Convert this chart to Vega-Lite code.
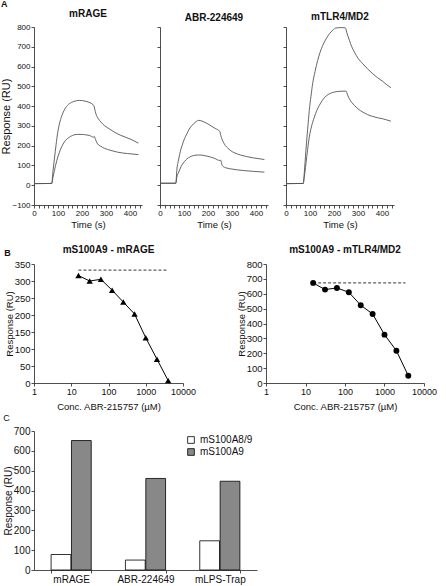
{
"$schema":"https://vega.github.io/schema/vega-lite/v6.json",
"padding":{"left":0,"top":0,"right":1,"bottom":1},
"config":{"font":"Liberation Sans","view":{"stroke":null},
"axis":{"grid":false,"domainColor":"#222","tickColor":"#222","labelColor":"#111","titleColor":"#111","tickSize":3,"labelPadding":1,"titlePadding":2,"titleFontWeight":"normal","labelFont":"Liberation Sans","titleFont":"Liberation Sans","domainWidth":0.8,"tickWidth":0.8},
"axisY":{"titlePadding":0},
"title":{"font":"Liberation Sans","fontWeight":"bold","color":"#111"}},
"datasets":{
"sens":[
{"p":"mRAGE","s":"hi","t":0,"r":8},{"p":"mRAGE","s":"hi","t":74,"r":9},{"p":"mRAGE","s":"hi","t":79,"r":70},{"p":"mRAGE","s":"hi","t":85,"r":133},{"p":"mRAGE","s":"hi","t":92,"r":205},{"p":"mRAGE","s":"hi","t":99,"r":268},{"p":"mRAGE","s":"hi","t":108,"r":320},{"p":"mRAGE","s":"hi","t":119,"r":361},{"p":"mRAGE","s":"hi","t":132,"r":392},{"p":"mRAGE","s":"hi","t":147,"r":412},{"p":"mRAGE","s":"hi","t":165,"r":423},{"p":"mRAGE","s":"hi","t":189,"r":429},{"p":"mRAGE","s":"hi","t":217,"r":424},{"p":"mRAGE","s":"hi","t":249,"r":404},{"p":"mRAGE","s":"hi","t":253,"r":385},{"p":"mRAGE","s":"hi","t":258,"r":361},{"p":"mRAGE","s":"hi","t":268,"r":336},{"p":"mRAGE","s":"hi","t":279,"r":319},{"p":"mRAGE","s":"hi","t":295,"r":300},{"p":"mRAGE","s":"hi","t":314,"r":285},{"p":"mRAGE","s":"hi","t":337,"r":267},{"p":"mRAGE","s":"hi","t":362,"r":252},{"p":"mRAGE","s":"hi","t":383,"r":242},{"p":"mRAGE","s":"hi","t":404,"r":232},{"p":"mRAGE","s":"hi","t":420,"r":222},{"p":"mRAGE","s":"hi","t":435,"r":213},
{"p":"mRAGE","s":"lo","t":0,"r":8},{"p":"mRAGE","s":"lo","t":74,"r":9},{"p":"mRAGE","s":"lo","t":79,"r":40},{"p":"mRAGE","s":"lo","t":85,"r":74},{"p":"mRAGE","s":"lo","t":95,"r":125},{"p":"mRAGE","s":"lo","t":106,"r":167},{"p":"mRAGE","s":"lo","t":116,"r":196},{"p":"mRAGE","s":"lo","t":126,"r":218},{"p":"mRAGE","s":"lo","t":142,"r":238},{"p":"mRAGE","s":"lo","t":161,"r":252},{"p":"mRAGE","s":"lo","t":180,"r":257},{"p":"mRAGE","s":"lo","t":196,"r":257},{"p":"mRAGE","s":"lo","t":215,"r":255},{"p":"mRAGE","s":"lo","t":230,"r":252},{"p":"mRAGE","s":"lo","t":249,"r":243},{"p":"mRAGE","s":"lo","t":252,"r":246},{"p":"mRAGE","s":"lo","t":256,"r":232},{"p":"mRAGE","s":"lo","t":265,"r":209},{"p":"mRAGE","s":"lo","t":278,"r":197},{"p":"mRAGE","s":"lo","t":293,"r":187},{"p":"mRAGE","s":"lo","t":320,"r":176},{"p":"mRAGE","s":"lo","t":349,"r":167},{"p":"mRAGE","s":"lo","t":390,"r":160},{"p":"mRAGE","s":"lo","t":435,"r":155},
{"p":"ABR","s":"hi","t":0,"r":10},{"p":"ABR","s":"hi","t":66,"r":10},{"p":"ABR","s":"hi","t":70,"r":75},{"p":"ABR","s":"hi","t":78,"r":133},{"p":"ABR","s":"hi","t":85,"r":172},{"p":"ABR","s":"hi","t":92,"r":201},{"p":"ABR","s":"hi","t":102,"r":235},{"p":"ABR","s":"hi","t":112,"r":260},{"p":"ABR","s":"hi","t":122,"r":284},{"p":"ABR","s":"hi","t":133,"r":302},{"p":"ABR","s":"hi","t":147,"r":318},{"p":"ABR","s":"hi","t":161,"r":328},{"p":"ABR","s":"hi","t":180,"r":322},{"p":"ABR","s":"hi","t":205,"r":306},{"p":"ABR","s":"hi","t":230,"r":287},{"p":"ABR","s":"hi","t":249,"r":272},{"p":"ABR","s":"hi","t":253,"r":252},{"p":"ABR","s":"hi","t":258,"r":234},{"p":"ABR","s":"hi","t":265,"r":215},{"p":"ABR","s":"hi","t":272,"r":201},{"p":"ABR","s":"hi","t":282,"r":188},{"p":"ABR","s":"hi","t":293,"r":176},{"p":"ABR","s":"hi","t":312,"r":163},{"p":"ABR","s":"hi","t":335,"r":153},{"p":"ABR","s":"hi","t":360,"r":145},{"p":"ABR","s":"hi","t":390,"r":138},{"p":"ABR","s":"hi","t":435,"r":130},
{"p":"ABR","s":"lo","t":0,"r":10},{"p":"ABR","s":"lo","t":66,"r":10},{"p":"ABR","s":"lo","t":70,"r":40},{"p":"ABR","s":"lo","t":78,"r":66},{"p":"ABR","s":"lo","t":85,"r":87},{"p":"ABR","s":"lo","t":92,"r":103},{"p":"ABR","s":"lo","t":102,"r":120},{"p":"ABR","s":"lo","t":112,"r":133},{"p":"ABR","s":"lo","t":126,"r":144},{"p":"ABR","s":"lo","t":140,"r":150},{"p":"ABR","s":"lo","t":161,"r":153},{"p":"ABR","s":"lo","t":180,"r":151},{"p":"ABR","s":"lo","t":196,"r":147},{"p":"ABR","s":"lo","t":225,"r":137},{"p":"ABR","s":"lo","t":249,"r":125},{"p":"ABR","s":"lo","t":253,"r":127},{"p":"ABR","s":"lo","t":256,"r":112},{"p":"ABR","s":"lo","t":262,"r":96},{"p":"ABR","s":"lo","t":275,"r":88},{"p":"ABR","s":"lo","t":293,"r":83},{"p":"ABR","s":"lo","t":320,"r":78},{"p":"ABR","s":"lo","t":349,"r":74},{"p":"ABR","s":"lo","t":390,"r":70},{"p":"ABR","s":"lo","t":435,"r":66},
{"p":"TLR","s":"hi","t":0,"r":8},{"p":"TLR","s":"hi","t":72,"r":9},{"p":"TLR","s":"hi","t":76,"r":60},{"p":"TLR","s":"hi","t":83,"r":176},{"p":"TLR","s":"hi","t":90,"r":280},{"p":"TLR","s":"hi","t":97,"r":378},{"p":"TLR","s":"hi","t":104,"r":450},{"p":"TLR","s":"hi","t":111,"r":513},{"p":"TLR","s":"hi","t":121,"r":575},{"p":"TLR","s":"hi","t":132,"r":631},{"p":"TLR","s":"hi","t":142,"r":672},{"p":"TLR","s":"hi","t":153,"r":707},{"p":"TLR","s":"hi","t":167,"r":740},{"p":"TLR","s":"hi","t":181,"r":766},{"p":"TLR","s":"hi","t":195,"r":784},{"p":"TLR","s":"hi","t":208,"r":795},{"p":"TLR","s":"hi","t":230,"r":797},{"p":"TLR","s":"hi","t":247,"r":796},{"p":"TLR","s":"hi","t":255,"r":765},{"p":"TLR","s":"hi","t":264,"r":733},{"p":"TLR","s":"hi","t":274,"r":700},{"p":"TLR","s":"hi","t":285,"r":673},{"p":"TLR","s":"hi","t":300,"r":642},{"p":"TLR","s":"hi","t":320,"r":614},{"p":"TLR","s":"hi","t":340,"r":588},{"p":"TLR","s":"hi","t":361,"r":564},{"p":"TLR","s":"hi","t":382,"r":543},{"p":"TLR","s":"hi","t":403,"r":525},{"p":"TLR","s":"hi","t":420,"r":508},{"p":"TLR","s":"hi","t":437,"r":493},
{"p":"TLR","s":"lo","t":0,"r":8},{"p":"TLR","s":"lo","t":72,"r":9},{"p":"TLR","s":"lo","t":76,"r":40},{"p":"TLR","s":"lo","t":83,"r":108},{"p":"TLR","s":"lo","t":90,"r":180},{"p":"TLR","s":"lo","t":97,"r":243},{"p":"TLR","s":"lo","t":107,"r":300},{"p":"TLR","s":"lo","t":118,"r":344},{"p":"TLR","s":"lo","t":128,"r":377},{"p":"TLR","s":"lo","t":139,"r":404},{"p":"TLR","s":"lo","t":152,"r":430},{"p":"TLR","s":"lo","t":167,"r":451},{"p":"TLR","s":"lo","t":184,"r":464},{"p":"TLR","s":"lo","t":201,"r":471},{"p":"TLR","s":"lo","t":225,"r":475},{"p":"TLR","s":"lo","t":250,"r":476},{"p":"TLR","s":"lo","t":257,"r":455},{"p":"TLR","s":"lo","t":264,"r":437},{"p":"TLR","s":"lo","t":274,"r":418},{"p":"TLR","s":"lo","t":285,"r":404},{"p":"TLR","s":"lo","t":300,"r":386},{"p":"TLR","s":"lo","t":320,"r":370},{"p":"TLR","s":"lo","t":340,"r":357},{"p":"TLR","s":"lo","t":361,"r":348},{"p":"TLR","s":"lo","t":382,"r":341},{"p":"TLR","s":"lo","t":403,"r":336},{"p":"TLR","s":"lo","t":420,"r":330},{"p":"TLR","s":"lo","t":437,"r":324}
],
"inhib":[
{"g":"L","c":15.625,"r":316},{"g":"L","c":31.25,"r":300},{"g":"L","c":62.5,"r":305},{"g":"L","c":125,"r":273},{"g":"L","c":250,"r":238},{"g":"L","c":500,"r":203},{"g":"L","c":1000,"r":133},{"g":"L","c":2000,"r":70},{"g":"L","c":4000,"r":7},
{"g":"R","c":15.625,"r":673},{"g":"R","c":31.25,"r":628},{"g":"R","c":62.5,"r":639},{"g":"R","c":125,"r":610},{"g":"R","c":250,"r":523},{"g":"R","c":500,"r":464},{"g":"R","c":1000,"r":325},{"g":"R","c":2000,"r":217},{"g":"R","c":4000,"r":49}
],
"ref":[
{"g":"L","c":15.625,"r":332},{"g":"L","c":4000,"r":332},
{"g":"R","c":15.625,"r":673},{"g":"R","c":3400,"r":673}
],
"bars":[
{"target":"mRAGE","protein":"mS100A8/9","r":78},{"target":"mRAGE","protein":"mS100A9","r":652},
{"target":"ABR-224649","protein":"mS100A8/9","r":50},{"target":"ABR-224649","protein":"mS100A9","r":461},
{"target":"mLPS-Trap","protein":"mS100A8/9","r":147},{"target":"mLPS-Trap","protein":"mS100A9","r":447}
]
},
"spacing":16,
"resolve":{"legend":{"fill":"independent"}},
"vconcat":[
{
"title":{"text":"A","anchor":"start","fontSize":9,"offset":0},
"spacing":14,
"hconcat":[
{"width":108,"height":178,"title":{"text":"mRAGE","frame":"group","fontSize":10,"offset":4},
"data":{"name":"sens"},"transform":[{"filter":"datum.p==='mRAGE'"}],
"mark":{"type":"line","color":"#555","strokeWidth":0.9,"interpolate":"monotone"},
"encoding":{
"x":{"field":"t","type":"quantitative","scale":{"domain":[0,450],"nice":false},"axis":{"title":"Time (s)","values":[0,20,40,60,80,100,120,140,160,180,200,220,240,260,280,300,320,340,360,380,400,420,440],"labelExpr":"datum.value % 100 === 0 ? datum.label : ''","labelFontSize":8,"titleFontSize":9.5,"labelFlush":false}},
"y":{"field":"r","type":"quantitative","scale":{"domain":[-100,800],"nice":false},"axis":{"title":"Response (RU)","values":[-100,0,100,200,300,400,500,600,700,800],"labelFontSize":8,"titleFontSize":11,"labelOverlap":false}},
"detail":{"field":"s"}}},
{"width":108,"height":178,"title":{"text":"ABR-224649","frame":"group","fontSize":10,"offset":4},
"data":{"name":"sens"},"transform":[{"filter":"datum.p==='ABR'"}],
"mark":{"type":"line","color":"#555","strokeWidth":0.9,"interpolate":"monotone"},
"encoding":{
"x":{"field":"t","type":"quantitative","scale":{"domain":[0,450],"nice":false},"axis":{"title":"Time (s)","values":[0,20,40,60,80,100,120,140,160,180,200,220,240,260,280,300,320,340,360,380,400,420,440],"labelExpr":"datum.value % 100 === 0 ? datum.label : ''","labelFontSize":8,"titleFontSize":9.5,"labelFlush":false}},
"y":{"field":"r","type":"quantitative","scale":{"domain":[-100,800],"nice":false},"axis":{"title":null,"labels":false,"values":[-100,0,100,200,300,400,500,600,700,800]}},
"detail":{"field":"s"}}},
{"width":108,"height":178,"title":{"text":"mTLR4/MD2","frame":"group","fontSize":10,"offset":4},
"data":{"name":"sens"},"transform":[{"filter":"datum.p==='TLR'"}],
"mark":{"type":"line","color":"#555","strokeWidth":0.9,"interpolate":"monotone"},
"encoding":{
"x":{"field":"t","type":"quantitative","scale":{"domain":[0,450],"nice":false},"axis":{"title":"Time (s)","values":[0,20,40,60,80,100,120,140,160,180,200,220,240,260,280,300,320,340,360,380,400,420,440],"labelExpr":"datum.value % 100 === 0 ? datum.label : ''","labelFontSize":8,"titleFontSize":9.5,"labelFlush":false}},
"y":{"field":"r","type":"quantitative","scale":{"domain":[-100,800],"nice":false},"axis":{"title":null,"labels":false,"values":[-100,0,100,200,300,400,500,600,700,800]}},
"detail":{"field":"s"}}}
]},
{
"spacing":3,
"resolve":{"legend":{"fill":"independent"}},
"vconcat":[
{
"title":{"text":"B","anchor":"start","fontSize":9,"offset":-13},
"spacing":40,
"hconcat":[
{"width":149,"height":119,"title":{"text":"mS100A9 - mRAGE","frame":"group","fontSize":10,"offset":4},
"encoding":{
"x":{"field":"c","type":"quantitative","scale":{"type":"log","domain":[1,10000]},"axis":{"title":"Conc. ABR-215757 (µM)","values":[1,10,100,1000,10000],"format":"d","labelFontSize":9,"titleFontSize":9.5,"titlePadding":5,"labelFlush":false,"labelOverlap":false}},
"y":{"field":"r","type":"quantitative","scale":{"domain":[0,350],"nice":false},"axis":{"title":"Response (RU)","values":[0,50,100,150,200,250,300,350],"labelFontSize":9.5,"titleFontSize":9.5,"labelOverlap":false}}},
"layer":[
{"data":{"name":"ref"},"transform":[{"filter":"datum.g==='L'"}],
"mark":{"type":"line","color":"black","strokeWidth":0.8,"strokeDash":[3,2]}},
{"data":{"name":"inhib"},"transform":[{"filter":"datum.g==='L'"}],
"mark":{"type":"line","color":"black","strokeWidth":1,"point":{"shape":"triangle-up","filled":true,"size":40,"color":"black"}}}
]},
{"width":158,"height":119,"title":{"text":"mS100A9 - mTLR4/MD2","frame":"group","fontSize":10,"offset":4},
"encoding":{
"x":{"field":"c","type":"quantitative","scale":{"type":"log","domain":[1,10000]},"axis":{"title":"Conc. ABR-215757 (µM)","values":[1,10,100,1000,10000],"format":"d","labelFontSize":9,"titleFontSize":9.5,"titlePadding":5,"labelFlush":false,"labelOverlap":false}},
"y":{"field":"r","type":"quantitative","scale":{"domain":[0,800],"nice":false},"axis":{"title":"Response (RU)","values":[0,100,200,300,400,500,600,700,800],"labelFontSize":9.5,"titleFontSize":9.5,"labelOverlap":false}}},
"layer":[
{"data":{"name":"ref"},"transform":[{"filter":"datum.g==='R'"}],
"mark":{"type":"line","color":"black","strokeWidth":0.8,"strokeDash":[3,2]}},
{"data":{"name":"inhib"},"transform":[{"filter":"datum.g==='R'"}],
"mark":{"type":"line","color":"black","strokeWidth":1,"point":{"shape":"circle","filled":true,"size":35,"color":"black"}}}
]}
]},
{"width":223,"height":139,
"title":{"text":"C","anchor":"start","fontSize":9,"fontWeight":"normal","offset":3},
"data":{"name":"bars"},
"mark":{"type":"bar","stroke":"black","strokeWidth":0.8},
"encoding":{
"x":{"field":"target","type":"nominal","sort":["mRAGE","ABR-224649","mLPS-Trap"],"scale":{"paddingInner":0.46,"paddingOuter":0.23},"axis":{"title":null,"labelAngle":0,"tickBand":"extent","labelFontSize":10,"labelPadding":1}},
"xOffset":{"field":"protein","type":"nominal","sort":["mS100A8/9","mS100A9"],"scale":{"paddingInner":0.03}},
"y":{"field":"r","type":"quantitative","scale":{"domain":[0,700],"nice":false},"axis":{"title":"Response (RU)","values":[0,100,200,300,400,500,600,700],"labelFontSize":10,"titleFontSize":10,"labelOverlap":false}},
"fill":{"field":"protein","type":"nominal","scale":{"domain":["mS100A8/9","mS100A9"],"range":["white","#888888"]},"legend":{"title":null,"orient":"top-right","offset":4,"symbolType":"square","symbolStrokeColor":"black","symbolStrokeWidth":0.8,"symbolSize":45,"labelFontSize":10,"rowPadding":2,"labelColor":"#111"}}}}
]}
]}
